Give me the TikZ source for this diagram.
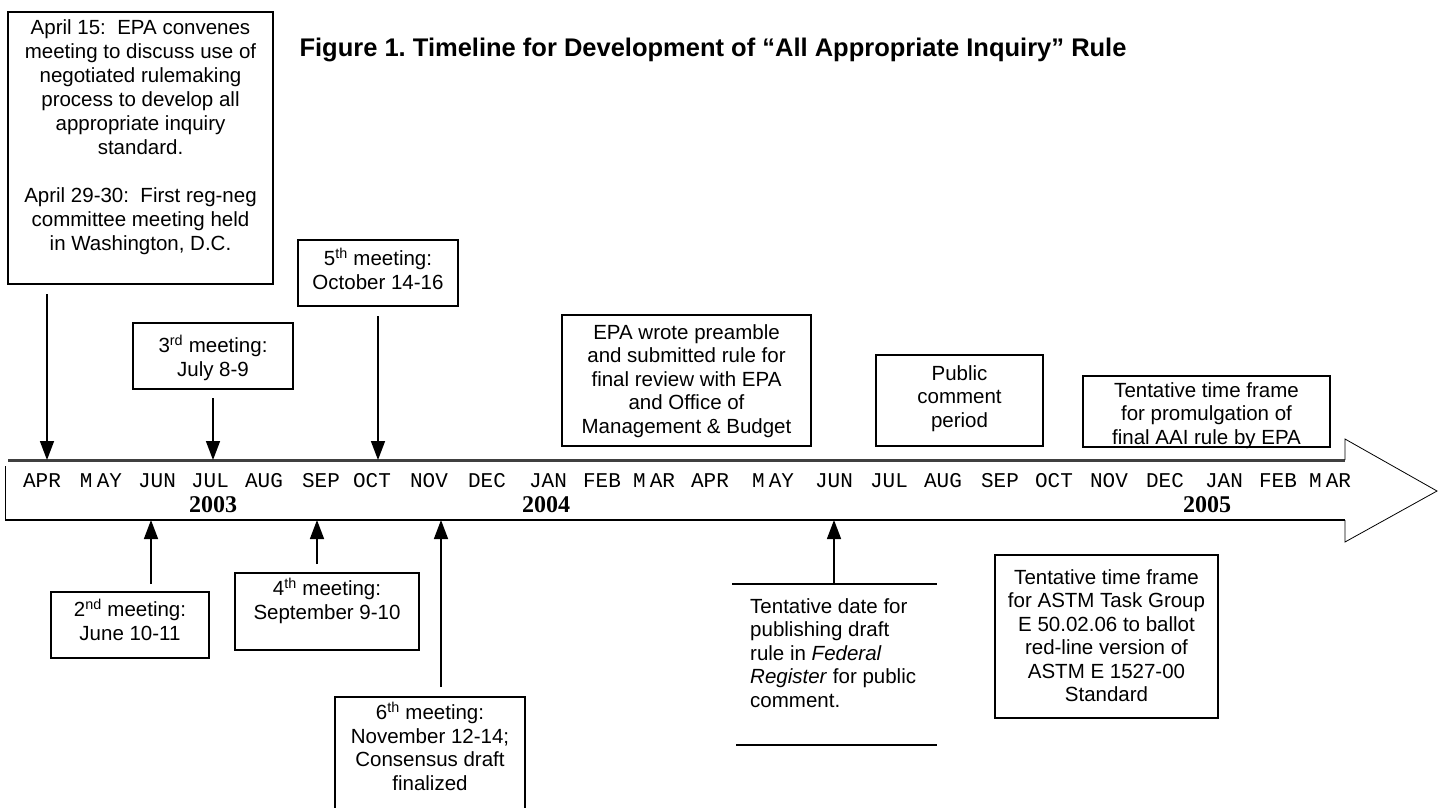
\documentclass[tikz,border=0pt]{standalone}
\usepackage{fontspec}
\setmainfont{Liberation Sans}
\newfontfamily\monthfont{Liberation Mono}
\newfontfamily\yearfont{Liberation Serif}
\usetikzlibrary{arrows.meta,positioning}
\frenchspacing
\newcommand{\evlines}[4]{\parbox[c][#1][t]{#2}{\centering\vspace*{#3}#4}}
\newcommand{\ordn}[2]{#1\textsuperscript{#2}}

\tikzset{
  evbox/.style={draw, line width=2.2pt, inner sep=0pt, font=\fontsize{20.5}{23.5}\selectfont},
  evarrow/.style={line width=1.5pt, -{Triangle[width=14pt,length=19pt]}},
  mlabel/.style={font=\monthfont\fontsize{21}{21}\selectfont, inner sep=0pt},
  ylabel/.style={font=\yearfont\bfseries\fontsize{24}{24}\selectfont, inner sep=0pt},
}

\begin{document}
\begin{tikzpicture}[x=1pt,y=-1pt]
	\useasboundingbox (0,0) rectangle (1439,807);

	\node[font=\bfseries\fontsize{25.5}{30}\selectfont] (title) at (713,50)
		{Figure 1. Timeline for Development of “All Appropriate Inquiry” Rule};

	% the time strip
	\coordinate (striptop) at (0,460);
	\coordinate (stripbot) at (0,520);
	\draw[line width=3pt, black!75] (8,460) -- (1345,460);
	\draw[line width=0.8pt] (1345,460) -- (1345,439) -- (1437,491) -- (1345,542) -- (1345,520);
	\draw[line width=1.5pt] (1345,520) -- (5,520);
	\draw[line width=0.8pt] (5,520) -- (5,466);

	\foreach \mname/\mx [count=\i] in {APR/42,{M\kern.2em AY}/101,JUN/157,JUL/210,AUG/264,SEP/321,OCT/372,NOV/429,DEC/487,JAN/548,FEB/602,{M\kern.2em AR}/654,
			APR/710,{M\kern.2em AY}/773,JUN/834,JUL/889,AUG/943,SEP/1000,OCT/1054,NOV/1109,DEC/1165,JAN/1224,FEB/1278,{M\kern.2em AR}/1330}
		\node[mlabel] (m\i) at (\mx,481) {\mname};
	\node[ylabel] (y2003) at (213,505) {2003};
	\node[ylabel] (y2004) at (546,505) {2004};
	\node[ylabel] (y2005) at (1207,505) {2005};

	% events above the strip
	\node[evbox, minimum width=265pt, minimum height=272pt] (aprbox) at (140.5,148)
		{\evlines{268pt}{255pt}{5.5pt}{\fontsize{20.5}{24}\selectfont April 15:\ \ EPA convenes\\ meeting to discuss use of\\ negotiated rulemaking\\ process to develop all\\ appropriate inquiry\\ standard.\\[24pt] April 29-30:\ \ First reg-neg\\ committee meeting held\\ in Washington, D.C.}};
	\node[evbox, minimum width=160pt, minimum height=66pt] (julbox) at (213,356)
		{\evlines{62pt}{152pt}{10pt}{\ordn{3}{rd} meeting:\\ July 8-9}};
	\node[evbox, minimum width=160pt, minimum height=66pt] (octbox) at (378,273)
		{\evlines{62pt}{152pt}{6pt}{\ordn{5}{th} meeting:\\ October 14-16}};
	\node[evbox, minimum width=249pt, minimum height=131pt] (reviewbox) at (686.5,380.5)
		{\evlines{127pt}{241pt}{7.5pt}{EPA wrote preamble\\ and submitted rule for\\ final review with EPA\\ and Office of\\ Management \& Budget}};
	\node[evbox, minimum width=167pt, minimum height=91pt] (publicbox) at (959.5,400.5)
		{\evlines{87pt}{159pt}{8.5pt}{Public\\ comment\\ period}};
	\node[evbox, minimum width=247pt, minimum height=71pt] (promulgbox) at (1206.5,411.5)
		{\evlines{67pt}{239pt}{4.5pt}{Tentative time frame\\ for promulgation of\\ final AAI rule by EPA}};

	\coordinate (aprfoot) at (47,294);
	\draw[evarrow] (aprfoot) -- (aprfoot |- striptop);
	\draw[evarrow] ([yshift=-8pt]julbox.south) -- (julbox.south |- striptop);
	\draw[evarrow] ([yshift=-9pt]octbox.south) -- (octbox.south |- striptop);

	% events below the strip
	\node[evbox, minimum width=158pt, minimum height=66pt] (junbox) at (130,625)
		{\evlines{62pt}{150pt}{5pt}{\ordn{2}{nd} meeting:\\ June 10-11}};
	\node[evbox, minimum width=184pt, minimum height=77pt] (sepbox) at (327,611.5)
		{\evlines{73pt}{176pt}{3pt}{\ordn{4}{th} meeting:\\ September 9-10}};
	\node[evbox, minimum width=190pt, minimum height=124pt] (novbox) at (430,759)
		{\evlines{120pt}{182pt}{3pt}{\ordn{6}{th} meeting:\\ November 12-14;\\ Consensus draft\\ finalized}};
	\node[evbox, minimum width=223pt, minimum height=163pt] (astmbox) at (1106.5,636.5)
		{\evlines{159pt}{215pt}{12.5pt}{Tentative time frame\\ for ASTM Task Group\\ E 50.02.06 to ballot\\ red-line version of\\ ASTM E 1527-00\\ Standard}};

	\coordinate (junfoot) at (151,584);
	\coordinate (sepfoot) at (317,564);
	\coordinate (novfoot) at (441,687);
	\draw[evarrow] (junfoot) -- (junfoot |- stripbot);
	\draw[evarrow] (sepfoot) -- (sepfoot |- stripbot);
	\draw[evarrow] (novfoot) -- (novfoot |- stripbot);

	% draft rule, between two rules
	\coordinate (draftfoot) at (834,584);
	\coordinate (draftul) at (732,584);
	\coordinate (draftur) at (937,584);
	\coordinate (draftll) at (736,745);
	\coordinate (draftlr) at (937,745);
	\draw[line width=2.2pt] (draftul) -- (draftur);
	\draw[line width=2.2pt] (draftll) -- (draftlr);
	\draw[evarrow] (draftfoot) -- (draftfoot |- stripbot);
	\node[anchor=north west, inner sep=0pt, align=left, font=\fontsize{20.5}{23.5}\selectfont] (drafttext) at (750,598)
		{Tentative date for\\ publishing draft\\ rule in \textit{Federal}\\ \textit{Register} for public\\ comment.};
\end{tikzpicture}
\end{document}
